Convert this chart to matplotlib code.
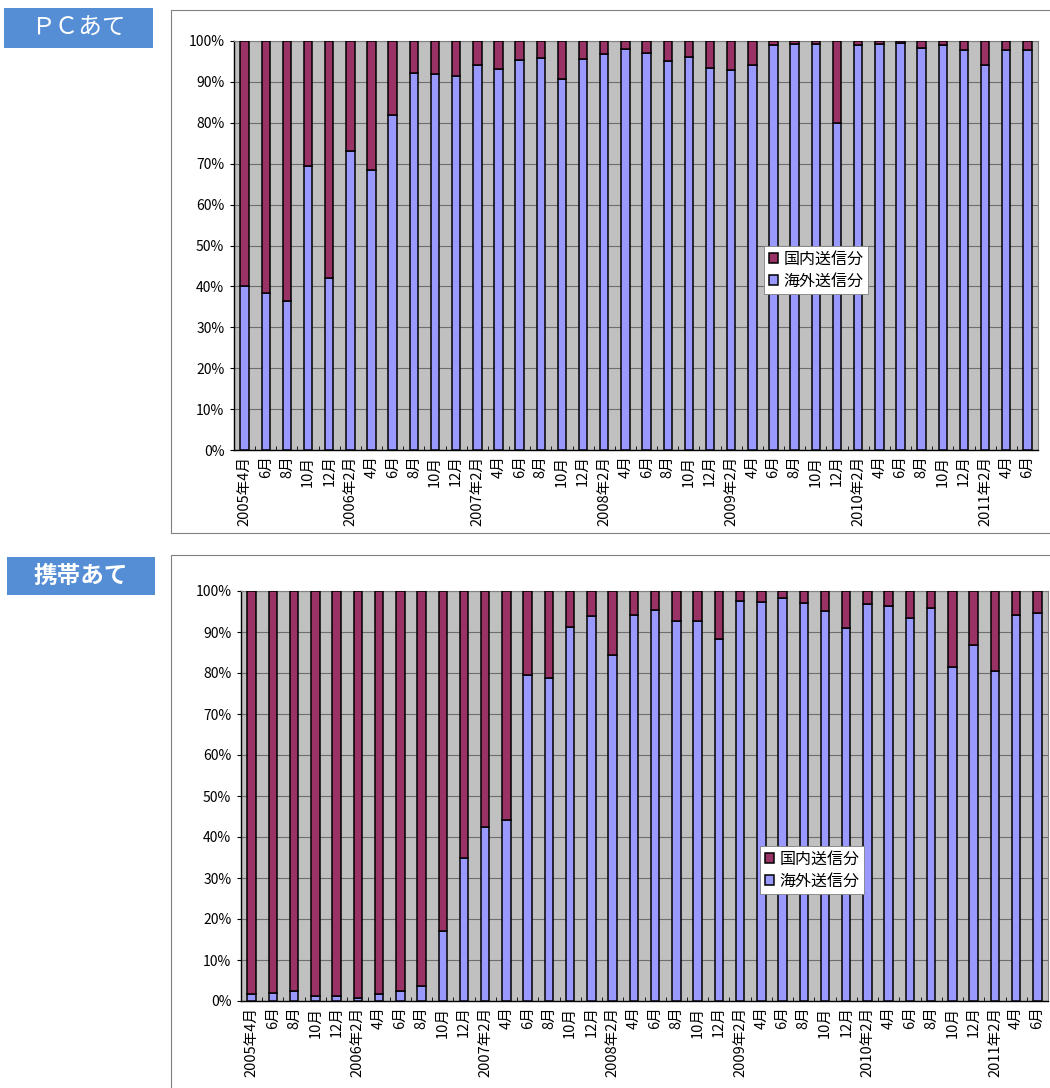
import matplotlib.pyplot as plt
from matplotlib.patches import Rectangle
from matplotlib.ticker import FixedLocator

plt.rcParams['font.family'] = ['Noto Sans CJK JP', 'DejaVu Sans']

# Month labels (bimonthly, 2005/4 - 2011/6)
months = ['2005年4月', '6月', '8月', '10月', '12月',
          '2006年2月', '4月', '6月', '8月', '10月', '12月',
          '2007年2月', '4月', '6月', '8月', '10月', '12月',
          '2008年2月', '4月', '6月', '8月', '10月', '12月',
          '2009年2月', '4月', '6月', '8月', '10月', '12月',
          '2010年2月', '4月', '6月', '8月', '10月', '12月',
          '2011年2月', '4月', '6月']

# share of overseas-sent spam (%), rest is domestic
pc_overseas = [40.0, 38.5, 36.5, 69.4, 42.1, 73.2, 68.5, 81.9, 92.2, 91.9,
               91.5, 94.2, 93.2, 95.4, 95.8, 90.7, 95.6, 96.9, 98.0, 97.1,
               95.0, 96.2, 93.5, 92.8, 94.2, 98.9, 99.3, 99.2, 80.0, 99.1,
               99.2, 99.6, 98.4, 99.0, 97.7, 94.1, 97.7, 97.9]
mobile_overseas = [1.6, 2.0, 2.4, 1.1, 1.1, 0.8, 1.7, 2.4, 3.6, 17.0,
                   35.0, 42.4, 44.1, 79.4, 78.9, 91.2, 93.8, 84.3, 94.1, 95.4,
                   92.8, 92.8, 88.3, 97.5, 97.2, 98.3, 97.0, 95.2, 90.9, 96.8,
                   96.4, 93.5, 95.9, 81.5, 86.8, 80.6, 94.1, 94.6]

W, H = 1050, 1088
fig = plt.figure(figsize=(W / 100, H / 100), dpi=100)
fig.patch.set_facecolor('white')


def px(x0, y0, x1, y1):
    # pixel box -> figure fraction [left, bottom, width, height]
    return [x0 / W, 1 - y1 / H, (x1 - x0) / W, (y1 - y0) / H]


def draw_panel(title, bold, title_box, frame_box, ax_box, legend_xy, overseas):
    # chart frame
    l, b, w, h = px(*frame_box)
    fig.patches.append(Rectangle((l, b), w, h, transform=fig.transFigure,
                                 facecolor='white', edgecolor='#808080',
                                 lw=0.8, zorder=-2))
    # title box
    l, b, w, h = px(*title_box)
    fig.patches.append(Rectangle((l, b), w, h, transform=fig.transFigure,
                                 facecolor='#558ED5', edgecolor='none', zorder=-2))
    fig.text(l + w / 2, b + h / 2, title, color='white', fontsize=17,
             fontweight='bold' if bold else 'normal',
             ha='center', va='center')

    ax = fig.add_axes(px(*ax_box))
    ax.set_facecolor('#C0C0C0')
    x = list(range(len(overseas)))
    domestic = [100 - v for v in overseas]
    ax.bar(x, overseas, width=0.4, color='#9999FF', edgecolor='black',
           linewidth=1.1, label='海外送信分', zorder=3)
    ax.bar(x, domestic, width=0.4, bottom=overseas, color='#993366',
           edgecolor='black', linewidth=1.1, label='国内送信分', zorder=3)

    ax.set_xlim(-0.5, len(overseas) - 0.5)
    ax.set_ylim(0, 100)
    ax.set_yticks(range(0, 101, 10))
    ax.set_yticklabels([f'{v}%' for v in range(0, 101, 10)], fontsize=10)
    ax.yaxis.grid(True, color='#6E6E6E', linewidth=0.8, zorder=0)
    ax.set_axisbelow(True)
    ax.set_xticks(x)
    ax.set_xticklabels(months, rotation=90, fontsize=10.5)
    ax.tick_params(axis='x', length=0, pad=4)
    ax.tick_params(axis='y', length=3, direction='out', pad=4)
    ax.xaxis.set_minor_locator(FixedLocator([i + 0.5 for i in range(-1, len(overseas))]))
    ax.tick_params(axis='x', which='minor', length=3, direction='in')
    for s in ['top', 'right']:
        ax.spines[s].set_color('#808080')
        ax.spines[s].set_linewidth(0.8)
    for s in ['left', 'bottom']:
        ax.spines[s].set_color('black')
        ax.spines[s].set_linewidth(1.0)

    handles, labels = ax.get_legend_handles_labels()
    leg = ax.legend(handles[::-1], labels[::-1], loc='upper left',
                    bbox_to_anchor=(legend_xy[0] / W, 1 - legend_xy[1] / H),
                    bbox_transform=fig.transFigure, fontsize=11.5,
                    frameon=True, fancybox=False, borderaxespad=0,
                    handlelength=0.6, handleheight=0.6, handletextpad=0.3,
                    labelspacing=0.3, borderpad=0.3, framealpha=1)
    leg.get_frame().set_edgecolor('#808080')
    leg.get_frame().set_linewidth(0.6)
    leg.set_zorder(5)
    return ax


draw_panel('ＰＣあて', False, (4, 8, 153, 48), (171, 10, 1060, 533),
           (234, 41, 1038, 450), (764, 246), pc_overseas)
draw_panel('携帯あて', True, (7, 557, 155, 595), (171, 555, 1060, 1100),
           (241, 591, 1048, 1001), (760, 846), mobile_overseas)

fig.savefig('out.png', dpi=100)
